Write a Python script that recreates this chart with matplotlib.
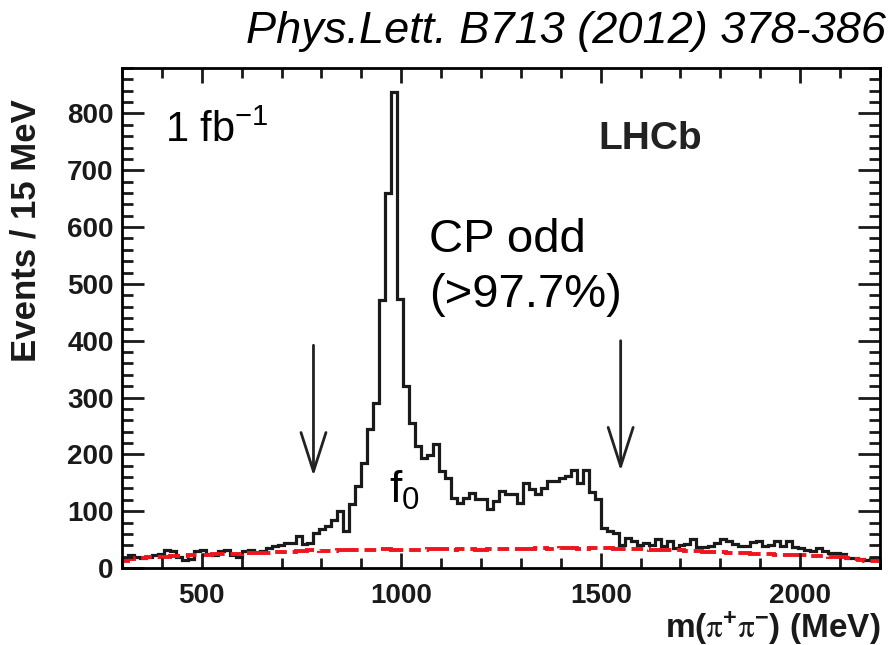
import matplotlib
matplotlib.use("Agg")
import matplotlib.pyplot as plt
import numpy as np
from matplotlib.ticker import MultipleLocator

plt.rcParams.update({
    "font.family": "Liberation Sans",
    "axes.linewidth": 2.0,
    "mathtext.default": "regular",
})

# ---------------------------------------------------------------------------
# data: m(pi+pi-) in 15 MeV bins starting at 300
# ---------------------------------------------------------------------------
BIN_START = 300
BIN_WIDTH = 15

data_counts = [
    18, 22, 20, 18, 20, 22, 24, 32, 30, 20,          # 300-
    14, 16, 30, 32, 24, 22, 30, 32, 22, 20,          # 450-
    30, 32, 28, 30, 35, 38, 40, 44, 44, 56,          # 600-
    42, 44, 62, 68, 74, 84, 100, 65, 112, 145,       # 750-
    185, 245, 291, 471, 660, 838, 474, 321, 256, 215,  # 900-
    194, 198, 218, 171, 159, 124, 115, 124, 132, 121,  # 1050-
    121, 104, 118, 136, 130, 130, 115, 150, 139, 130,  # 1200-
    141, 153, 153, 159, 162, 172, 150, 172, 134, 122,  # 1350-
    71, 65, 62, 40, 53, 48, 40, 44, 40, 51,          # 1500-
    39, 48, 36, 40, 42, 51, 37, 37, 39, 44,          # 1650-
    51, 48, 42, 39, 39, 46, 48, 39, 40, 48,          # 1800-
    39, 48, 37, 36, 32, 30, 35, 30, 26, 26,          # 1950-
    25, 18, 18, 15, 14, 15, 14,                      # 2100-
]

background = [
    12, 16, 18, 18, 19, 19, 20, 20, 21, 21,
    21, 22, 22, 23, 23, 24, 24, 25, 25, 25,
    26, 26, 27, 27, 27, 28, 28, 29, 29, 30,
    30, 31, 32, 30, 30, 30, 31, 31, 32, 32,
    32, 31, 32, 33, 33, 32, 32, 31, 31, 32,
    32, 33, 33, 34, 33, 32, 33, 34, 34, 32,
    32, 33, 34, 34, 34, 34, 33, 33, 34, 35,
    35, 34, 34, 35, 35, 35, 34, 34, 35, 35,
    35, 35, 34, 34, 34, 34, 33, 33, 32, 32,
    32, 31, 31, 31, 30, 30, 30, 29, 29, 29,
    28, 27, 27, 26, 26, 25, 25, 24, 24, 23,
    23, 23, 22, 22, 22, 21, 21, 21, 20, 20,
    19, 17, 15, 14, 13, 13, 12,
]

# mass window cuts shown as arrows: (mass, arrow top, arrow tip)
cut_arrows = [(780, 392, 162), (1550, 400, 171)]

edges = BIN_START + BIN_WIDTH * np.arange(len(data_counts) + 1)

fig = plt.figure(figsize=(8.95, 6.45), dpi=100)
ax = fig.add_axes([0.1363, 0.1194, 0.8469, 0.7752])

ax.stairs(data_counts, edges, color="#1a1a1a", lw=2.3)
ax.stairs(background, edges, color="#f0141e", lw=2.8,
          linestyle=(0, (6, 1.5, 3, 1.5)))

for m, y0, y1 in cut_arrows:
    ax.annotate("", xy=(m, y1), xytext=(m, y0),
                arrowprops=dict(arrowstyle="->,head_length=1.4,head_width=0.45",
                                color="#222222", lw=2.0, mutation_scale=20,
                                shrinkA=0, shrinkB=0))

ax.set_xlim(300, 2200)
ax.set_ylim(0, 880)
ax.xaxis.set_major_locator(MultipleLocator(500))
ax.xaxis.set_minor_locator(MultipleLocator(100))
ax.yaxis.set_major_locator(MultipleLocator(100))
ax.yaxis.set_minor_locator(MultipleLocator(20))

ax.tick_params(which="both", direction="in", top=True, right=True,
               width=2.0, labelsize=20, colors="#1a1a1a")
ax.tick_params(axis="y", which="major", length=16, pad=6)
ax.tick_params(axis="y", which="minor", length=8)
ax.tick_params(axis="x", which="major", length=11, pad=11)
ax.tick_params(axis="x", which="minor", length=7)
for lbl in ax.get_xticklabels() + ax.get_yticklabels():
    lbl.set_fontweight("bold")

ax.set_ylabel("Events / 15 MeV", fontsize=25, fontweight="bold", color="#1a1a1a")
ax.yaxis.set_label_coords(-0.105, 0.674)
ax.set_xlabel(r"m($\mathrm{\pi}^{+}\mathrm{\pi}^{-}$) (MeV)", fontsize=24,
              fontweight="bold", color="#1a1a1a", math_fontfamily="stix")
ax.xaxis.set_label_coords(1.0, -0.082)
ax.xaxis.label.set_horizontalalignment("right")

ax.text(0.057, 0.874, r"1 fb$^{-1}$", transform=ax.transAxes, fontsize=30,
        va="center", ha="left", math_fontfamily="dejavusans")
ax.text(0.628, 0.858, "LHCb", transform=ax.transAxes, fontsize=28,
        fontweight="bold", va="center", ha="left", color="#222222")
ax.text(0.405, 0.656, "CP odd", transform=ax.transAxes, fontsize=34,
        va="center", ha="left")
ax.text(0.405, 0.546, "(>97.7%)", transform=ax.transAxes, fontsize=34,
        va="center", ha="left")
ax.text(0.352, 0.156, r"f$_0$", transform=ax.transAxes, fontsize=32,
        va="center", ha="left", math_fontfamily="dejavusans")

fig.text(0.99, 1 - 32 / 645, "Phys.Lett. B713 (2012) 378-386", fontsize=32.5,
         style="italic", ha="right", va="center")

fig.savefig("out.png", dpi=100)
